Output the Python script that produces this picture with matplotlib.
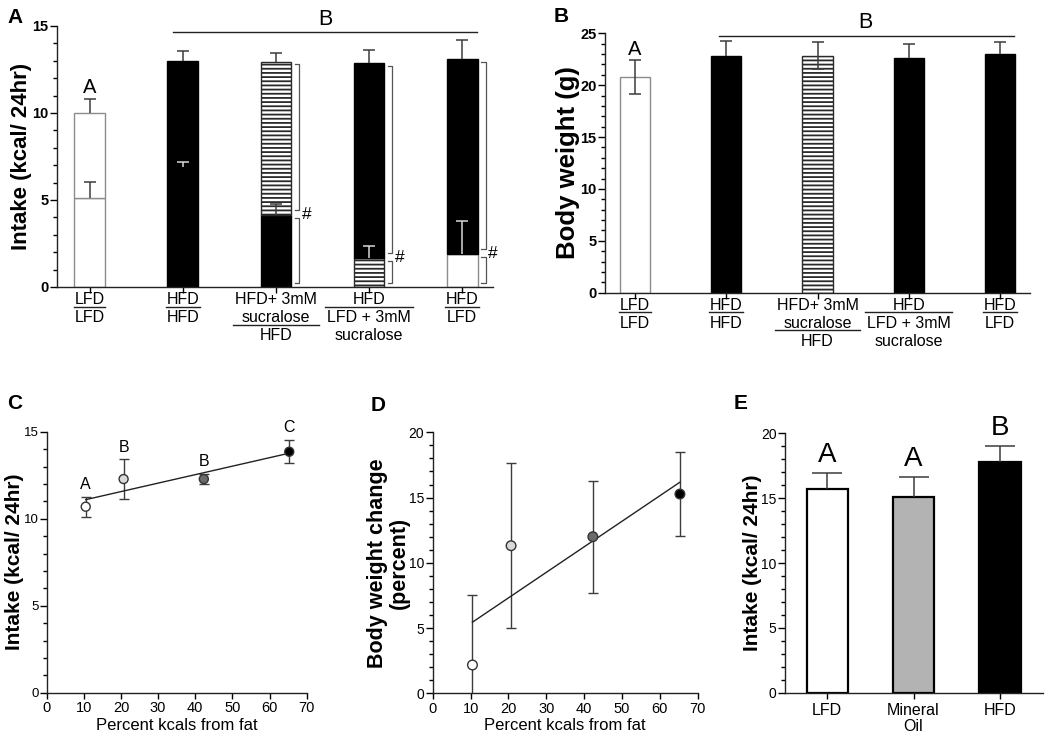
import numpy as np
import matplotlib.pyplot as plt
from matplotlib.transforms import ScaledTranslation

plt.rcParams['font.family'] = ['Liberation Sans', 'DejaVu Sans']
plt.rcParams['hatch.linewidth'] = 1.3
plt.rcParams['axes.linewidth'] = 1.0
plt.rcParams['axes.edgecolor'] = '#222222'

# ---- data ----
# panel A: 24 h intake, bottom segment = second diet, full bar = total
diet_top = [['LFD'], ['HFD'], ['HFD+ 3mM', 'sucralose'], ['HFD'], ['HFD']]
diet_bottom = [['LFD'], ['HFD'], ['HFD'], ['LFD + 3mM', 'sucralose'], ['LFD']]
lower_intake = [5.13, 6.9, 4.12, 1.65, 1.88]
lower_sem = [0.9, 0.3, 0.63, 0.72, 1.9]
total_intake = [10.0, 13.0, 12.95, 12.85, 13.1]
total_sem = [0.78, 0.56, 0.48, 0.75, 1.1]
lower_fill = ['white', 'black', 'black', 'hatch', 'white']
upper_fill = ['white', 'black', 'hatch', 'black', 'black']
marked = [False, False, True, True, True]   # '#' brackets

# panel B: body weight
body_weight = [20.78, 22.83, 22.83, 22.66, 22.99]
body_weight_sem = [1.65, 1.43, 1.3, 1.32, 1.15]
bw_fill = ['white', 'black', 'hatch', 'black', 'black']

# panels C and D
fat_pct = [10.5, 20.7, 42.3, 65.3]
intake_c = [10.69, 12.28, 12.28, 13.85]
intake_c_sem = [0.57, 1.13, 0.28, 0.67]
letters_c = ['A', 'B', 'B', 'C']
bw_change = [2.17, 11.31, 12.0, 15.27]
bw_change_sem = [5.4, 6.33, 4.28, 3.23]
dot_colors = ['white', '#d9d9d9', '#6b6b6b', 'black']

# panel E
e_groups = ['LFD', 'Mineral\nOil', 'HFD']
intake_e = [15.68, 15.11, 17.79]
intake_e_sem = [1.28, 1.54, 1.21]
e_colors = ['white', '#b3b3b3', 'black']
letters_e = ['A', 'A', 'B']

ERR = '#3c3c3c'
FIG_W, FIG_H = 1050, 740


def fill_style(fill):
    if fill == 'black':
        return dict(facecolor='black', edgecolor='black')
    if fill == 'white':
        return dict(facecolor='white', edgecolor='#8c8c8c')
    return dict(facecolor='white', edgecolor='#2a2a2a', hatch='----')


def up_err(ax, x, y, e, color=ERR, cap=9, z=4):
    # one-sided (upward) error bar with a cap only at the top
    ax.vlines(x, y, y + e, colors=color, lw=1.1, zorder=z)
    ax.plot([x], [y + e], marker='_', ms=cap, mew=1.1, color=color, zorder=z)


def clean(ax, ymax, major, minor, bold=False, size=9.5):
    for s in ['top', 'right']:
        ax.spines[s].set_visible(False)
    ax.set_ylim(0, ymax)
    ax.set_yticks(np.arange(0, ymax + 0.01, major))
    ax.set_yticks(np.arange(0, ymax + 0.01, minor), minor=True)
    ax.tick_params(axis='y', which='major', length=5, width=1, labelsize=size, pad=1)
    ax.tick_params(axis='y', which='minor', length=3, width=1)
    ax.tick_params(axis='x', length=4, width=1)
    if bold:
        for t in ax.get_yticklabels():
            t.set_fontweight('bold')


def ylabel_at(ax, text, center_px, size, **kw):
    # place the y label centred on a given figure pixel column
    pos = ax.get_position()
    left = pos.x0 * FIG_W
    width = pos.width * FIG_W
    ax.set_ylabel(text, fontsize=size, fontweight='bold', va='center', **kw)
    ax.yaxis.set_label_coords((center_px - left) / width, 0.5)


def diet_labels(ax, size=11.5):
    fig = ax.figure
    n = len(diet_top)
    step = 13.0
    ax.set_xticks(range(n))
    ax.set_xticklabels([])
    trans = ax.get_xaxis_transform()
    pending = []
    for x in range(n):
        y = -9.0
        arts = []
        for s in diet_top[x]:
            arts.append(ax.annotate(s, (x, 0), xycoords=trans, xytext=(0, y),
                                    textcoords='offset points', ha='center',
                                    va='center', fontsize=size))
            y -= step
        line_y = y + step - 5.2
        for s in diet_bottom[x]:
            arts.append(ax.annotate(s, (x, 0), xycoords=trans, xytext=(0, y),
                                    textcoords='offset points', ha='center',
                                    va='center', fontsize=size))
            y -= step
        pending.append((x, line_y, arts))
    fig.canvas.draw()
    r = fig.canvas.get_renderer()
    unit = ax.transData.transform((1, 0))[0] - ax.transData.transform((0, 0))[0]
    for x, line_y, arts in pending:
        w = max(a.get_window_extent(r).width for a in arts)
        half = w / 2 / unit * 1.04
        off = ScaledTranslation(0, line_y / 72, fig.dpi_scale_trans)
        ax.plot([x - half, x + half], [0, 0], color='#222222', lw=1.0,
                transform=trans + off, clip_on=False)


fig = plt.figure(figsize=(10.5, 7.4), dpi=100)

# ---------------- panel A ----------------
axA = fig.add_axes([0.0543, 0.6122, 0.4152, 0.3527])
xa = np.arange(len(total_intake))
w = 0.33
for i in xa:
    axA.bar(i, lower_intake[i], w, lw=1.0, **fill_style(lower_fill[i]))
    axA.bar(i, total_intake[i] - lower_intake[i], w, bottom=lower_intake[i],
            lw=1.0, **fill_style(upper_fill[i]))
    up_err(axA, i, total_intake[i], total_sem[i])
    ec = '#d8d8d8' if upper_fill[i] == 'black' else ERR
    up_err(axA, i, lower_intake[i], lower_sem[i], color=ec)
    if marked[i]:
        bx = i + 0.25
        up0, up1 = lower_intake[i] + 0.3, total_intake[i] - 0.15
        lo0, lo1 = 0.2, lower_intake[i] - 0.15
        for y0, y1 in [(up0, up1), (lo0, lo1)]:
            axA.plot([bx - 0.05, bx, bx, bx - 0.05], [y1, y1, y0, y0],
                     color='#555555', lw=0.9, clip_on=False)
        axA.text(bx + 0.03, lower_intake[i] + 0.05, '#', fontsize=12.5,
                 ha='left', va='center')
axA.set_xlim(-0.35, 4.33)
clean(axA, 15, 5, 1, bold=True, size=10.5)
ylabel_at(axA, 'Intake (kcal/ 24hr)', 22, 16)
axA.text(0, total_intake[0] + total_sem[0] + 0.35, 'A', ha='center',
         va='baseline', fontsize=14.5)
axA.plot([0.9, 4.16], [14.67, 14.67], color='#222222', lw=1.0, clip_on=False)
axA.text(2.53, 15.06, 'B', ha='center', va='baseline', fontsize=15.5, clip_on=False)
diet_labels(axA)

# ---------------- panel B ----------------
axB = fig.add_axes([0.5762, 0.6045, 0.4048, 0.3505])
xb = np.arange(len(body_weight))
for i in xb:
    axB.bar(i, body_weight[i], w, lw=1.0, **fill_style(bw_fill[i]))
    if bw_fill[i] == 'black':
        up_err(axB, i, body_weight[i], body_weight_sem[i])
    else:
        axB.errorbar(i, body_weight[i], yerr=body_weight_sem[i], fmt='none',
                     ecolor=ERR, elinewidth=1.1, capsize=4.5, capthick=1.1)
axB.set_xlim(-0.33, 4.33)
clean(axB, 25, 5, 1, bold=True, size=10.5)
ylabel_at(axB, 'Body weight (g)', 568, 18.5)
axB.text(0, body_weight[0] + body_weight_sem[0] + 0.5, 'A', ha='center',
         va='baseline', fontsize=14.5)
axB.plot([0.92, 4.15], [24.75, 24.75], color='#222222', lw=1.0, clip_on=False)
axB.text(2.53, 25.5, 'B', ha='center', va='baseline', fontsize=15.5, clip_on=False)
diet_labels(axB)

# ---------------- panel C ----------------
axC = fig.add_axes([0.0445, 0.0639, 0.2476, 0.3527])
axC.errorbar(fat_pct, intake_c, yerr=intake_c_sem, fmt='none', ecolor=ERR,
             elinewidth=1.0, capsize=3.5, capthick=1.0)
fit = np.polyfit(fat_pct, intake_c, 1)
xf = np.array([min(fat_pct), max(fat_pct)])
axC.plot(xf, np.polyval(fit, xf), color='#222222', lw=1.0, zorder=2)
axC.scatter(fat_pct, intake_c, s=42, c=dot_colors, edgecolors='#333333',
            linewidths=1.0, zorder=3)
for xi, yi, ei, lt in zip(fat_pct, intake_c, intake_c_sem, letters_c):
    axC.text(xi, yi + ei + 0.45, lt, ha='center', va='baseline', fontsize=11.5)
axC.set_xlim(0, 70)
axC.set_xticks(range(0, 71, 10))
clean(axC, 15, 5, 1, size=9.5)
axC.tick_params(axis='x', labelsize=10.5, pad=2)
axC.set_xlabel('Percent kcals from fat', fontsize=12, labelpad=2)
ylabel_at(axC, 'Intake (kcal/ 24hr)', 15, 15)

# ---------------- panel D ----------------
axD = fig.add_axes([0.4121, 0.0631, 0.2524, 0.3527])
axD.errorbar(fat_pct, bw_change, yerr=bw_change_sem, fmt='none', ecolor=ERR,
             elinewidth=1.0, capsize=3.5, capthick=1.0)
fit = np.polyfit(fat_pct, bw_change, 1)
axD.plot(xf, np.polyval(fit, xf), color='#222222', lw=1.0, zorder=2)
axD.scatter(fat_pct, bw_change, s=48, c=dot_colors, edgecolors='#333333',
            linewidths=1.0, zorder=3)
axD.set_xlim(0, 70)
axD.set_xticks(range(0, 71, 10))
clean(axD, 20, 5, 1, size=10)
axD.tick_params(axis='x', labelsize=10.5, pad=2)
axD.set_xlabel('Percent kcals from fat', fontsize=12, labelpad=2)
ylabel_at(axD, 'Body weight change\n(percent)', 388, 15.5, linespacing=1.05)

# ---------------- panel E ----------------
axE = fig.add_axes([0.7476, 0.0639, 0.2457, 0.3505])
xe = np.arange(len(intake_e))
axE.bar(xe, intake_e, 0.48, color=e_colors, edgecolor='black', lw=1.6)
for xi, yi, ei in zip(xe, intake_e, intake_e_sem):
    up_err(axE, xi, yi, ei, cap=22)
for xi, yi, ei, lt in zip(xe, intake_e, intake_e_sem, letters_e):
    axE.text(xi, yi + ei + 0.85, lt, ha='center', va='baseline', fontsize=20)
axE.set_xlim(-0.49, 2.5)
axE.set_xticks(xe)
axE.set_xticklabels(e_groups, fontsize=11.5, linespacing=1.1)
clean(axE, 20, 5, 1, size=10)
ylabel_at(axE, 'Intake (kcal/ 24hr)', 752, 15)

# panel letters
for lt, px, py in [('A', 7, 8), ('B', 554, 7), ('C', 7, 394),
                   ('D', 371, 396), ('E', 734, 394)]:
    fig.text(px / FIG_W, 1 - py / FIG_H, lt, fontsize=15, fontweight='bold',
             ha='left', va='top')

fig.savefig('out.png', dpi=100)
